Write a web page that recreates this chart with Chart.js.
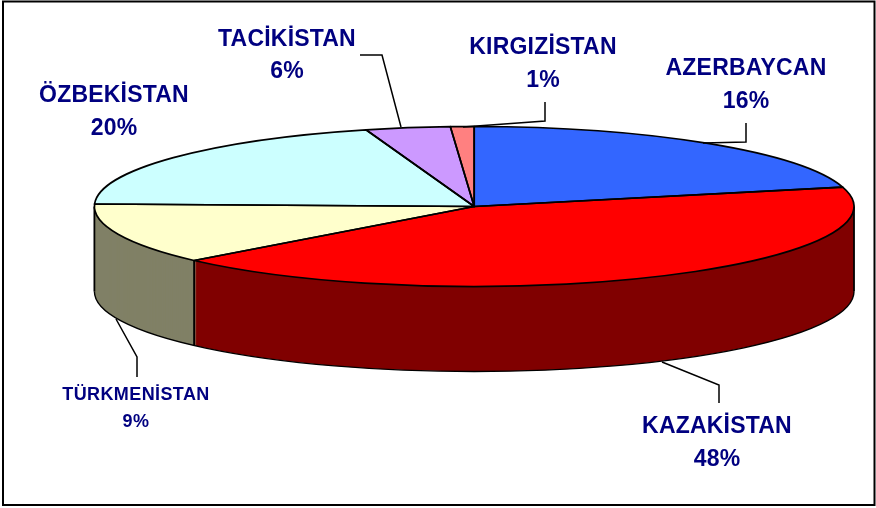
<!DOCTYPE html>
<html>
<head>
<meta charset="utf-8">
<title>Pie</title>
<script src="https://cdn.jsdelivr.net/npm/chart.js@4"></script>
<style>
  html, body { margin: 0; padding: 0; background: #fff; }
  canvas { display: block; }
</style>
</head>
<body>
<canvas id="pie" width="876" height="508"></canvas>
<script>
const countries = ['AZERBAYCAN', 'KAZAKİSTAN', 'TÜRKMENİSTAN', 'ÖZBEKİSTAN', 'TACİKİSTAN', 'KIRGIZİSTAN'];
// percentages as printed on the labels
const printedPercents = [16, 48, 9, 20, 6, 1];
// slice sizes as measured off the drawn ellipse; the original's 3D projection
// does not draw them in proportion to the printed percentages
const drawnShares = [21.1, 42.1, 12.3, 19.9, 3.6, 1.0];
const topColors = ['#3366ff', '#ff0000', '#ffffcc', '#ccffff', '#cc99ff', '#ff8080'];
const wallColors = ['#1a3380', '#800000', '#808066', '#668080', '#664d80', '#804040'];

// ellipse of the pie top and height of the side wall, in pixels
const view = { cx: 474.2, cy: 206.5, rx: 379.8, ry: 80, depth: 85 };

const navy = '#000080';

// label centre x, name baseline, percent baseline, font size, letter spacing
const labelSpots = [
  [746, 75, 108, 23, 0.2],
  [717, 433, 466, 23, 0.2],
  [136, 400, 427, 18, 0.4],
  [114, 102, 135, 23, 0.2],
  [287, 46, 78, 23, 0.2],
  [543, 54, 87, 23, 0.2]
];

const leaders = [
  [[746, 123], [746, 142], [703, 143]],
  [[719, 403], [719, 385], [662, 362]],
  [[137, 377], [137, 357], [116, 319]],
  null,
  [[360, 55], [382, 55], [401, 127]],
  [[545, 102], [545, 121], [463, 127]]
];

function applyView(ctx, arc, drop) {
  ctx.translate(view.cx, view.cy + drop);
  ctx.scale(view.rx / arc.outerRadius, view.ry / arc.outerRadius);
  ctx.translate(-arc.x, -arc.y);
}

const pie3d = {
  id: 'pie3d',
  beforeDraw(chart) {
    const ctx = chart.ctx;
    ctx.save();
    ctx.fillStyle = '#fff';
    ctx.fillRect(0, 0, 876, 508);
    ctx.strokeStyle = '#000';
    ctx.lineWidth = 2;
    ctx.strokeRect(3, 1.5, 871.5, 503.5);
    ctx.restore();
  },
  beforeDatasetDraw(chart, args) {
    const ctx = chart.ctx;
    const arcs = args.meta.data;

    // side wall: stack the slices downwards in the darker colour
    for (let d = view.depth; d >= 1; d--) {
      arcs.forEach((arc, i) => {
        const saved = arc.options;
        arc.options = { ...saved, backgroundColor: wallColors[i] };
        ctx.save();
        applyView(ctx, arc, d);
        arc.draw(ctx);
        ctx.restore();
        arc.options = saved;
      });
    }

    // wall outline
    const first = arcs[0];
    ctx.save();
    ctx.strokeStyle = '#000';
    ctx.lineWidth = 1.4;
    ctx.beginPath();
    ctx.save();
    applyView(ctx, first, view.depth);
    ctx.arc(first.x, first.y, first.outerRadius, 0, Math.PI);
    ctx.restore();
    ctx.stroke();
    ctx.lineWidth = 1.8;
    ctx.beginPath();
    ctx.moveTo(view.cx - view.rx, view.cy);
    ctx.lineTo(view.cx - view.rx, view.cy + view.depth);
    ctx.moveTo(view.cx + view.rx, view.cy);
    ctx.lineTo(view.cx + view.rx, view.cy + view.depth);
    arcs.forEach(arc => {
      if (Math.sin(arc.endAngle) > 0) {
        const x = view.cx + view.rx * Math.cos(arc.endAngle);
        const y = view.cy + view.ry * Math.sin(arc.endAngle);
        ctx.moveTo(x, y);
        ctx.lineTo(x, y + view.depth);
      }
    });
    ctx.stroke();
    ctx.restore();

    // the top itself is drawn by the controller under this transform
    ctx.save();
    applyView(ctx, first, 0);
  },
  afterDatasetDraw(chart, args) {
    const ctx = chart.ctx;
    ctx.restore();
    ctx.save();
    ctx.strokeStyle = '#000';
    ctx.lineWidth = 1.7;
    ctx.lineJoin = 'round';
    args.meta.data.forEach(arc => {
      ctx.beginPath();
      ctx.save();
      applyView(ctx, arc, 0);
      ctx.moveTo(arc.x, arc.y);
      ctx.arc(arc.x, arc.y, arc.outerRadius, arc.startAngle, arc.endAngle);
      ctx.closePath();
      ctx.restore();
      ctx.stroke();
    });
    ctx.restore();
  },
  afterDraw(chart) {
    const ctx = chart.ctx;
    ctx.save();
    ctx.strokeStyle = '#000';
    ctx.lineWidth = 1.5;
    leaders.forEach(pts => {
      if (!pts) return;
      ctx.beginPath();
      pts.forEach((p, i) => i ? ctx.lineTo(p[0], p[1]) : ctx.moveTo(p[0], p[1]));
      ctx.stroke();
    });
    ctx.fillStyle = navy;
    ctx.textAlign = 'center';
    ctx.textBaseline = 'alphabetic';
    countries.forEach((name, i) => {
      const [x, y1, y2, size, spacing] = labelSpots[i];
      ctx.font = `bold ${size}px "Liberation Sans", Arial, sans-serif`;
      ctx.letterSpacing = spacing + 'px';
      ctx.fillText(name, x, y1);
      ctx.fillText(printedPercents[i] + '%', x, y2);
    });
    ctx.restore();
  }
};

new Chart(document.getElementById('pie'), {
  type: 'pie',
  data: {
    labels: countries,
    datasets: [{
      data: drawnShares,
      backgroundColor: topColors,
      borderWidth: 0,
      clip: false
    }]
  },
  options: {
    responsive: false,
    animation: false,
    events: [],
    layout: { padding: 0 },
    plugins: {
      legend: { display: false },
      tooltip: { enabled: false }
    }
  },
  plugins: [pie3d]
});
</script>
</body>
</html>
